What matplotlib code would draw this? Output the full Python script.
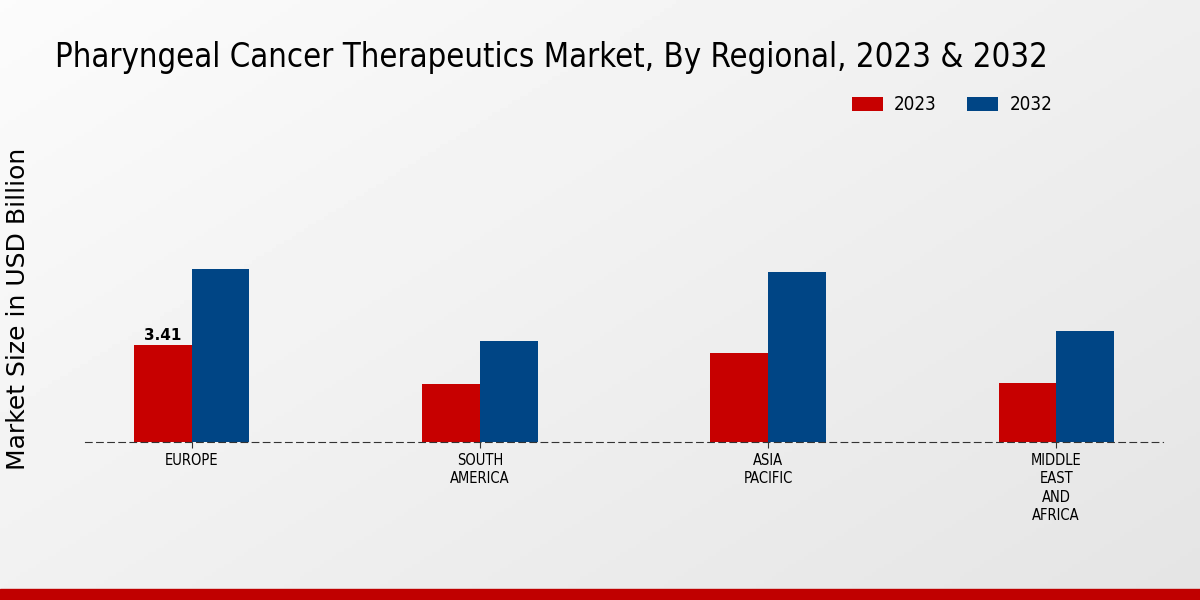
import numpy as np
import matplotlib.pyplot as plt

regions = ["EUROPE", "SOUTH\nAMERICA", "ASIA\nPACIFIC", "MIDDLE\nEAST\nAND\nAFRICA"]
years = ["2023", "2032"]
values_2023 = [3.41, 2.04, 3.13, 2.08]
values_2032 = [6.08, 3.55, 5.98, 3.90]
colors = ["#c70000", "#004585"]

fig = plt.figure(figsize=(12, 6), dpi=100)

# background gradient
bg = fig.add_axes([0, 0, 1, 1])
xx, yy = np.meshgrid(np.linspace(0, 1, 300), np.linspace(0, 1, 150))
grad = 0.985 - 0.09 * (0.55 * xx + 0.45 * yy)
bg.imshow(grad, cmap="gray", vmin=0, vmax=1, aspect="auto", extent=[0, 1, 0, 1], origin="upper")
bg.axhspan(0, 11 / 600, color="#c00000")
bg.set_xlim(0, 1)
bg.set_ylim(0, 1)
bg.axis("off")

ax = fig.add_axes([0.071, 0.263, 0.898, 0.38])
ax.patch.set_alpha(0)
x = np.arange(len(regions))
w = 0.2
ax.bar(x - w / 2, values_2023, w, color=colors[0], label=years[0])
ax.bar(x + w / 2, values_2032, w, color=colors[1], label=years[1])
ax.text(x[0] - w / 2, values_2023[0] + 0.08, f"{values_2023[0]:.2f}", ha="center", va="bottom",
        fontsize=11, fontweight="bold")

ax.set_xlim(-0.37, 3.37)
ax.set_ylim(0, 8)
ax.set_xticks(x)
ax.set_xticklabels(regions, fontsize=10.5, fontstretch="condensed", linespacing=1.3)
ax.set_yticks([])
for s in ["top", "right", "left"]:
    ax.spines[s].set_visible(False)
ax.spines["bottom"].set_linestyle((0, (6, 4)))
ax.spines["bottom"].set_color("#333333")
ax.tick_params(axis="x", length=4, color="#333333")

fig.text(0.046, 0.905, "Pharyngeal Cancer Therapeutics Market, By Regional, 2023 & 2032",
         fontsize=23.6, fontstretch="condensed", va="center", ha="left")
fig.text(0.015, 0.485, "Market Size in USD Billion", rotation=90, fontsize=18,
         va="center", ha="center")

fig.legend(loc="center right", bbox_to_anchor=(0.877, 1 - 105 / 600), ncol=2, frameon=False,
           handlelength=1.65, handleheight=0.72, handletextpad=0.6, columnspacing=1.65,
           borderaxespad=0, borderpad=0, prop={"size": 13.5, "stretch": "condensed"})

fig.savefig("out.png", dpi=100)
